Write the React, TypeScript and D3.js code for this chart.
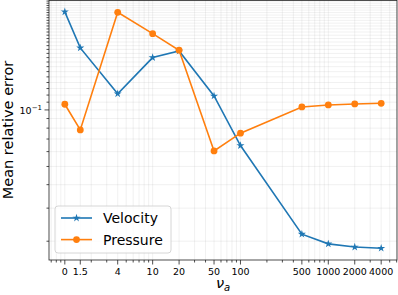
import React, { useEffect, useRef } from 'react';
import * as d3 from 'd3';

// nu_a values (0 is plotted at 1 on the log axis)
const nuValues = [1, 1.5, 4, 10, 20, 50, 100, 500, 1000, 2000, 4000];
const nuLabels = ['0', '1.5', '4', '10', '20', '50', '100', '500', '1000', '2000', '4000'];

const velocity = [0.333, 0.214, 0.122, 0.19, 0.206, 0.1187, 0.0646, 0.0218, 0.01936, 0.01862, 0.01836];
const pressure = [0.1072, 0.0783, 0.331, 0.2547, 0.208, 0.0605, 0.0752, 0.1037, 0.1063, 0.1076, 0.1085];

const seriesNames = ['Velocity', 'Pressure'];
const seriesColors = ['#1f77b4', '#ff7f0e'];

export default function App() {
  const ref = useRef<SVGSVGElement | null>(null);

  useEffect(() => {
    const svg = d3.select(ref.current);
    svg.selectAll('*').remove();

    const width = 398;
    const height = 295;
    const margin = { top: 0, right: 1, bottom: 35, left: 49 };
    const innerW = width - margin.left - margin.right;
    const innerH = height - margin.top - margin.bottom;
    const font = '"DejaVu Sans", sans-serif';

    // matplotlib-style 5% margins in log space
    const pad = (lo: number, hi: number) => {
      const a = Math.log10(lo), b = Math.log10(hi);
      const m = (b - a) * 0.05;
      return [Math.pow(10, a - m), Math.pow(10, b + m)];
    };
    const all = velocity.concat(pressure);
    const x = d3.scaleLog().domain(pad(d3.min(nuValues)!, d3.max(nuValues)!)).range([0, innerW]);
    const y = d3.scaleLog().domain(pad(d3.min(all)!, d3.max(all)!)).range([innerH, 0]);

    const g = svg.append('g').attr('transform', `translate(${margin.left},${margin.top})`);

    const xMinor = x.ticks(40).filter(v => !nuValues.includes(v));
    const yMajor = [0.1];
    const yMinor = y.ticks(40).filter(v => Math.abs(v - 0.1) > 1e-9);

    // grid
    const grid = g.append('g').attr('stroke', '#b0b0b0').attr('stroke-opacity', 0.22).attr('stroke-width', 0.8);
    for (const v of nuValues.concat(xMinor)) {
      grid.append('line').attr('x1', x(v)).attr('x2', x(v)).attr('y1', 0).attr('y2', innerH);
    }
    for (const v of yMajor.concat(yMinor)) {
      grid.append('line').attr('x1', 0).attr('x2', innerW).attr('y1', y(v)).attr('y2', y(v));
    }

    // lines + markers
    const line = d3.line<number>()
      .x((_, i) => x(nuValues[i]))
      .y(d => y(d));
    const star = d3.symbol().type(d3.symbolStar).size(20);

    [velocity, pressure].forEach((vals, si) => {
      g.append('path')
        .datum(vals)
        .attr('fill', 'none')
        .attr('stroke', seriesColors[si])
        .attr('stroke-width', 1.6)
        .attr('d', line);
      vals.forEach((v, i) => {
        if (si === 0) {
          g.append('path')
            .attr('d', star()!)
            .attr('transform', `translate(${x(nuValues[i])},${y(v)})`)
            .attr('fill', seriesColors[si]);
        } else {
          g.append('circle')
            .attr('cx', x(nuValues[i]))
            .attr('cy', y(v))
            .attr('r', 3.4)
            .attr('fill', seriesColors[si]);
        }
      });
    });

    // spines
    g.append('rect')
      .attr('x', 0).attr('y', 0.4).attr('width', innerW).attr('height', innerH - 0.4)
      .attr('fill', 'none').attr('stroke', '#222').attr('stroke-width', 0.8);

    // x ticks
    const xt = g.append('g').attr('stroke', '#222').attr('stroke-width', 0.8);
    nuValues.forEach(v => {
      xt.append('line').attr('x1', x(v)).attr('x2', x(v)).attr('y1', innerH).attr('y2', innerH + 4.5);
    });
    xMinor.forEach(v => {
      xt.append('line').attr('x1', x(v)).attr('x2', x(v)).attr('y1', innerH).attr('y2', innerH + 2.5);
    });
    nuValues.forEach((v, i) => {
      g.append('text')
        .attr('x', x(v)).attr('y', innerH + 15)
        .attr('text-anchor', 'middle')
        .attr('font-family', font).attr('font-size', 9.5).attr('fill', '#000')
        .text(nuLabels[i]);
    });

    // y ticks
    const yt = g.append('g').attr('stroke', '#222').attr('stroke-width', 0.8);
    yMajor.forEach(v => {
      yt.append('line').attr('x1', -4.5).attr('x2', 0).attr('y1', y(v)).attr('y2', y(v));
    });
    yMinor.forEach(v => {
      yt.append('line').attr('x1', -2.5).attr('x2', 0).attr('y1', y(v)).attr('y2', y(v));
    });
    yMajor.forEach(v => {
      const t = g.append('text')
        .attr('x', -7).attr('y', y(v) + 4)
        .attr('text-anchor', 'end')
        .attr('font-family', font).attr('font-size', 9.5).attr('fill', '#000');
      t.append('tspan').text('10');
      t.append('tspan').attr('dy', -4).attr('font-size', 7).text('\u22121');
    });

    // axis labels
    const xl = svg.append('text')
      .attr('x', margin.left + innerW / 2).attr('y', 288)
      .attr('text-anchor', 'middle')
      .attr('font-family', font).attr('font-size', 14.5).attr('font-style', 'italic');
    xl.append('tspan').text('\u03bd');
    xl.append('tspan').attr('dy', 3).attr('font-size', 10).text('a');

    svg.append('text')
      .attr('transform', `translate(13,${margin.top + innerH / 2}) rotate(-90)`)
      .attr('text-anchor', 'middle')
      .attr('font-family', font).attr('font-size', 14.5)
      .text('Mean relative error');

    // legend
    const lg = svg.append('g').attr('transform', 'translate(55,206)');
    lg.append('rect')
      .attr('width', 116).attr('height', 47).attr('rx', 3)
      .attr('fill', '#fff').attr('fill-opacity', 0.8)
      .attr('stroke', '#cccccc').attr('stroke-width', 0.8);
    seriesNames.forEach((name, i) => {
      const cy = 12 + i * 21.6;
      lg.append('line')
        .attr('x1', 6).attr('x2', 37).attr('y1', cy).attr('y2', cy)
        .attr('stroke', seriesColors[i]).attr('stroke-width', 1.6);
      if (i === 0) {
        lg.append('path').attr('d', star()!).attr('transform', `translate(21.5,${cy})`).attr('fill', seriesColors[i]);
      } else {
        lg.append('circle').attr('cx', 21.5).attr('cy', cy).attr('r', 3.4).attr('fill', seriesColors[i]);
      }
      lg.append('text')
        .attr('x', 48).attr('y', cy + 5)
        .attr('font-family', font).attr('font-size', 14)
        .text(name);
    });
  }, []);

  return (
    <svg
      ref={ref}
      width={398}
      height={295}
      style={{ position: 'absolute', left: 0, top: 0, background: '#fff' }}
    />
  );
}
